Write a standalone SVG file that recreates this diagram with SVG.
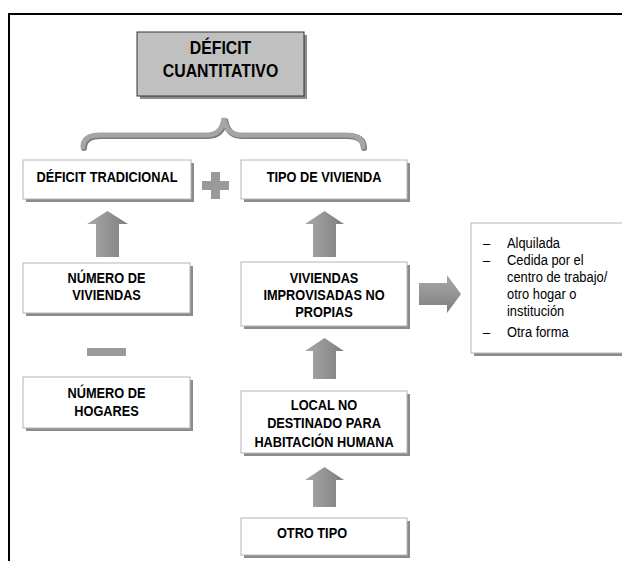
<svg xmlns="http://www.w3.org/2000/svg" width="622" height="561" viewBox="0 0 622 561">
<defs>
<style>
.box{fill:#fff;stroke:#b5b5b5;stroke-width:1}
.sh{fill:#8c8c8c}
.t{font-family:"Liberation Sans",Arial,sans-serif;font-weight:bold;font-size:14.5px;fill:#000;text-anchor:middle}
.h{font-size:18px}
.l{font-family:"Liberation Sans",Arial,sans-serif;font-size:15px;fill:#000}
.arr{fill:url(#ag)}
</style>
<linearGradient id="ag" x1="0" y1="0" x2="1" y2="0">
<stop offset="0" stop-color="#a8a8a8"/>
<stop offset="0.5" stop-color="#949494"/>
<stop offset="1" stop-color="#7e7e7e"/>
</linearGradient>
<linearGradient id="agv" x1="0" y1="0" x2="0" y2="1">
<stop offset="0" stop-color="#a8a8a8"/>
<stop offset="0.5" stop-color="#949494"/>
<stop offset="1" stop-color="#7e7e7e"/>
</linearGradient>
</defs>

<g id="frame">
<path d="M9,561 L9,14 L622,14" fill="none" stroke="#000" stroke-width="2"/>
</g>

<g id="deficit-cuantitativo">
<rect x="140" y="35" width="167" height="64" class="sh"/>
<rect x="137" y="32" width="167" height="64" fill="#c0c0c0" stroke="#333" stroke-width="1"/>
<text class="t h" transform="matrix(0.88 0 0 1 220.5 0)" x="0" y="54">DÉFICIT</text>
<text class="t h" transform="matrix(0.88 0 0 1 220.5 0)" x="0" y="77">CUANTITATIVO</text>
</g>

<g id="connectors">
<path d="M84,148 Q84,136 101,136 L208,136 Q223,136 225,119 Q227,136 242,136 L347,136 Q364,136 364,148" fill="none" stroke="#7a7a7a" stroke-width="6" stroke-linecap="round"/>
<path d="M83,147 Q83,135 100,135 L207,135 Q222,135 224,118 Q226,135 241,135 L346,135 Q363,135 363,147" fill="none" stroke="#a5a5a5" stroke-width="5" stroke-linecap="round"/>
<g id="plus">
<rect x="211" y="172" width="9" height="27" fill="#9a9a9a"/>
<rect x="202" y="181" width="27" height="9" fill="#9a9a9a"/>
</g>
<g id="minus">
<rect x="87" y="348" width="39" height="8" fill="#9a9a9a"/>
</g>
<path class="arr" d="M96,257 L96,224 L87,224 L107.5,211 L128,224 L119,224 L119,257 Z"/>
<path class="arr" d="M313,257 L313,224 L305,224 L324.5,211 L344,224 L336,224 L336,257 Z"/>
<path class="arr" d="M313,379 L313,351 L305,351 L324.5,338 L344,351 L336,351 L336,379 Z"/>
<path class="arr" d="M313,507 L313,480 L305,480 L324.5,467 L344,480 L336,480 L336,507 Z"/>
<path fill="url(#agv)" d="M419,283 L447,283 L447,275 L461,294 L447,313 L447,305 L419,305 Z"/>
</g>

<g id="deficit-tradicional">
<rect x="26" y="163" width="168" height="39" class="sh"/>
<rect x="23" y="160" width="168" height="39" class="box"/>
<text class="t" transform="matrix(0.88 0 0 1 107 0)" x="0" y="182">DÉFICIT TRADICIONAL</text>
</g>

<g id="tipo-vivienda">
<rect x="244" y="163" width="166" height="39" class="sh"/>
<rect x="241" y="160" width="166" height="39" class="box"/>
<text class="t" transform="matrix(0.88 0 0 1 324 0)" x="0" y="182">TIPO DE VIVIENDA</text>
</g>

<g id="numero-viviendas">
<rect x="26" y="266" width="167" height="50" class="sh"/>
<rect x="23" y="263" width="167" height="50" class="box"/>
<text class="t" transform="matrix(0.88 0 0 1 106.5 0)" x="0" y="283">NÚMERO DE</text>
<text class="t" transform="matrix(0.88 0 0 1 106.5 0)" x="0" y="300">VIVIENDAS</text>
</g>

<g id="numero-hogares">
<rect x="26" y="380" width="167" height="51" class="sh"/>
<rect x="23" y="377" width="167" height="51" class="box"/>
<text class="t" transform="matrix(0.88 0 0 1 106.5 0)" x="0" y="398">NÚMERO DE</text>
<text class="t" transform="matrix(0.88 0 0 1 106.5 0)" x="0" y="416">HOGARES</text>
</g>

<g id="viviendas-improvisadas">
<rect x="244" y="265" width="166" height="64" class="sh"/>
<rect x="241" y="262" width="166" height="64" class="box"/>
<text class="t" transform="matrix(0.88 0 0 1 324 0)" x="0" y="283">VIVIENDAS</text>
<text class="t" transform="matrix(0.88 0 0 1 324 0)" x="0" y="300">IMPROVISADAS NO</text>
<text class="t" transform="matrix(0.88 0 0 1 324 0)" x="0" y="317">PROPIAS</text>
</g>

<g id="lista">
<rect x="474" y="226" width="160" height="130" class="sh"/>
<rect x="471" y="223" width="160" height="130" class="box"/>
<text class="l" transform="matrix(0.86 0 0 1 483 0)" x="0" y="248">–</text>
<text class="l" transform="matrix(0.86 0 0 1 507 0)" x="0" y="248">Alquilada</text>
<text class="l" transform="matrix(0.86 0 0 1 483 0)" x="0" y="265">–</text>
<text class="l" transform="matrix(0.86 0 0 1 507 0)" x="0" y="265">Cedida por el</text>
<text class="l" transform="matrix(0.86 0 0 1 507 0)" x="0" y="282">centro de trabajo/</text>
<text class="l" transform="matrix(0.86 0 0 1 507 0)" x="0" y="299">otro hogar o</text>
<text class="l" transform="matrix(0.86 0 0 1 507 0)" x="0" y="316">institución</text>
<text class="l" transform="matrix(0.86 0 0 1 483 0)" x="0" y="337">–</text>
<text class="l" transform="matrix(0.86 0 0 1 507 0)" x="0" y="337">Otra forma</text>
</g>

<g id="local-no-destinado">
<rect x="244" y="394" width="166" height="62" class="sh"/>
<rect x="241" y="391" width="166" height="62" class="box"/>
<text class="t" transform="matrix(0.88 0 0 1 324 0)" x="0" y="410">LOCAL NO</text>
<text class="t" transform="matrix(0.88 0 0 1 324 0)" x="0" y="428">DESTINADO PARA</text>
<text class="t" transform="matrix(0.88 0 0 1 324 0)" x="0" y="447">HABITACIÓN HUMANA</text>
</g>

<g id="otro-tipo">
<rect x="244" y="521" width="166" height="37" class="sh"/>
<rect x="241" y="518" width="166" height="37" class="box"/>
<text class="t" transform="matrix(0.88 0 0 1 312 0)" x="0" y="538">OTRO TIPO</text>
</g>
</svg>
